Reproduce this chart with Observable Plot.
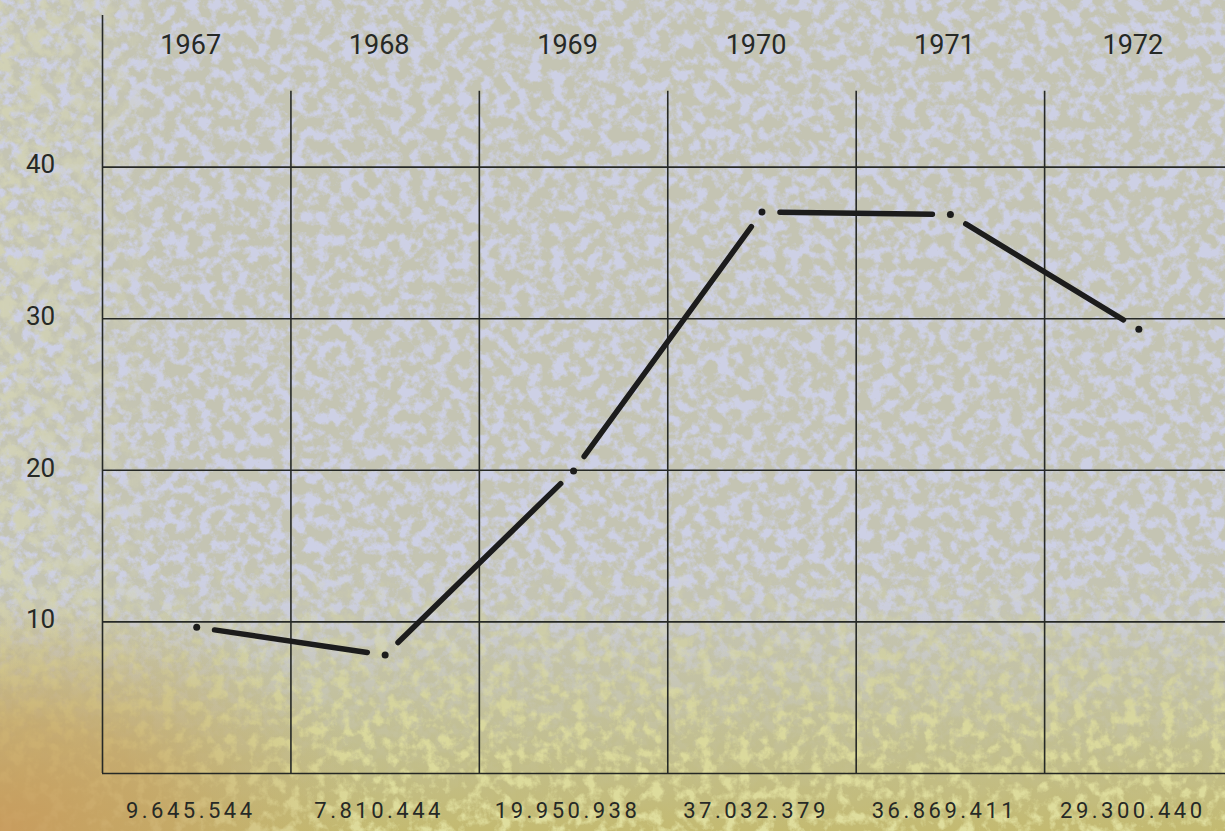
<!DOCTYPE html>
<html>
<head>
<meta charset="utf-8">
<script src="https://cdn.jsdelivr.net/npm/d3@7"></script>
<script src="https://cdn.jsdelivr.net/npm/@observablehq/plot@0.6"></script>
<style>
html, body { margin: 0; padding: 0; }
#wrap { position: relative; width: 1225px; height: 831px; overflow: hidden; background: #c4c4b3; }
#bg { position: absolute; left: 0; top: 0; }
#chart { position: absolute; left: 0; top: 0; }
</style>
</head>
<body>
<div id="wrap">
  <svg id="bg" width="1225" height="831">
    <defs>
      <filter id="blueN" x="0" y="0" width="100%" height="100%">
        <feTurbulence type="fractalNoise" baseFrequency="0.085" numOctaves="4" seed="7"/>
        <feColorMatrix type="matrix" values="0 0 0 0 0.61  0 0 0 0 0.63  0 0 0 0 0.78  4.5 0 0 0 -1.9"/>
      </filter>
      <filter id="oliveN" x="0" y="0" width="100%" height="100%">
        <feTurbulence type="fractalNoise" baseFrequency="0.07" numOctaves="4" seed="21"/>
        <feColorMatrix type="matrix" values="0 0 0 0 0.64  0 0 0 0 0.64  0 0 0 0 0.46  4 0 0 0 -1.7"/>
      </filter>
      <filter id="yelN" x="0" y="0" width="100%" height="100%">
        <feTurbulence type="fractalNoise" baseFrequency="0.08" numOctaves="4" seed="33"/>
        <feColorMatrix type="matrix" values="0 0 0 0 0.74  0 0 0 0 0.73  0 0 0 0 0.34  4 0 0 0 -1.85"/>
      </filter>
      <linearGradient id="gTop" x1="0" y1="0" x2="0" y2="1">
        <stop offset="0" stop-color="#fff"/>
        <stop offset="0.68" stop-color="#fff"/>
        <stop offset="0.9" stop-color="#444"/>
        <stop offset="1" stop-color="#000"/>
      </linearGradient>
      <mask id="mTop"><rect width="1225" height="831" fill="url(#gTop)"/></mask>
      <linearGradient id="gBot" x1="0" y1="0" x2="0" y2="1">
        <stop offset="0" stop-color="#000"/>
        <stop offset="0.66" stop-color="#000"/>
        <stop offset="0.88" stop-color="#ccc"/>
        <stop offset="1" stop-color="#fff"/>
      </linearGradient>
      <mask id="mBot"><rect width="1225" height="831" fill="url(#gBot)"/></mask>
      <linearGradient id="gLeft" x1="0" y1="0" x2="1" y2="0">
        <stop offset="0" stop-color="#fff"/>
        <stop offset="0.08" stop-color="#aaa"/>
        <stop offset="0.14" stop-color="#000"/>
      </linearGradient>
      <mask id="mLeft"><rect width="1225" height="831" fill="url(#gLeft)"/></mask>
      <radialGradient id="orange" gradientUnits="userSpaceOnUse" cx="0" cy="0" r="1"
        gradientTransform="translate(0 831) scale(380 240)">
        <stop offset="0" stop-color="#c89a5c" stop-opacity="0.95"/>
        <stop offset="0.45" stop-color="#c6a262" stop-opacity="0.7"/>
        <stop offset="1" stop-color="#c4b070" stop-opacity="0"/>
      </radialGradient>
      <linearGradient id="warmBot" x1="0" y1="0" x2="0" y2="1">
        <stop offset="0.74" stop-color="#c2bc78" stop-opacity="0"/>
        <stop offset="0.9" stop-color="#c0b96a" stop-opacity="0.5"/>
        <stop offset="1" stop-color="#c4b860" stop-opacity="0.8"/>
      </linearGradient>
    </defs>
    <rect width="1225" height="831" fill="#c4c4b3"/>
    <rect width="1225" height="831" filter="url(#blueN)" mask="url(#mTop)"/>
    <rect width="1225" height="831" filter="url(#oliveN)" mask="url(#mLeft)"/>
    <rect width="1225" height="831" fill="url(#warmBot)"/>
    <rect width="1225" height="831" filter="url(#yelN)" mask="url(#mBot)"/>
    <rect width="1225" height="831" fill="url(#orange)"/>
  </svg>
  <div id="chart"></div>
</div>
<script>
const years = [1967, 1968, 1969, 1970, 1971, 1972];
const values = [9.645544, 7.810444, 19.950938, 37.032379, 36.869411, 29.300440]; // millions
const valueLabels = ["9.645.544", "7.810.444", "19.950.938", "37.032.379", "36.869.411", "29.300.440"];
const yTicks = [10, 20, 30, 40];
const hLines = [0, 10, 20, 30, 40];

const data = years.map((y, i) => ({year: y, value: values[i], label: valueLabels[i]}));
const pairs = d3.pairs(data).map(([a, b]) => ({x1: a.year, y1: a.value, x2: b.year, y2: b.value}));
const bounds = years.map(y => y - 0.5);

const ink = "#262926";
const font = "Roboto, 'DejaVu Sans', sans-serif";

const chart = Plot.plot({
  width: 1225,
  height: 831,
  marginLeft: 102,
  marginRight: 0,
  marginTop: 15,
  marginBottom: 58,
  style: {background: "transparent", fontFamily: font},
  x: {domain: [1966.5, 1972.46], axis: null},
  y: {domain: [0, 50], axis: null},
  marks: [
    Plot.ruleY(hLines, {y: d => d, stroke: ink, strokeWidth: 1.6}),
    Plot.ruleX(bounds, {x: d => d, y1: 0, y2: (d, i) => i === 0 ? 50 : 45, stroke: ink, strokeWidth: 1.6}),
    Plot.text(years, {x: d => d, y: 48, dx: -6, text: d => String(d), fontSize: 27, fill: ink}),
    Plot.text(yTicks, {x: 1966.5, y: d => d, dx: -62, dy: -2, text: d => String(d), fontSize: 26, fill: ink}),
    Plot.text(data, {x: "year", y: 0, dy: 37, dx: -6, text: "label", fontSize: 22, fill: ink}),
    Plot.arrow(pairs, {x1: "x1", y1: "y1", x2: "x2", y2: "y2", headLength: 0, insetStart: 18, insetEnd: 18,
      stroke: "#1c1c1c", strokeWidth: 5.5, strokeLinecap: "round", bend: 0}),
    Plot.dot(data, {x: "year", y: "value", r: 3.5, fill: "#1c1c1c", stroke: "none"})
  ]
});
d3.select(chart).selectAll("text")
  .filter(function() { return valueLabels.includes(this.textContent); })
  .attr("letter-spacing", 3.5);
document.getElementById("chart").appendChild(chart);
</script>
</body>
</html>
